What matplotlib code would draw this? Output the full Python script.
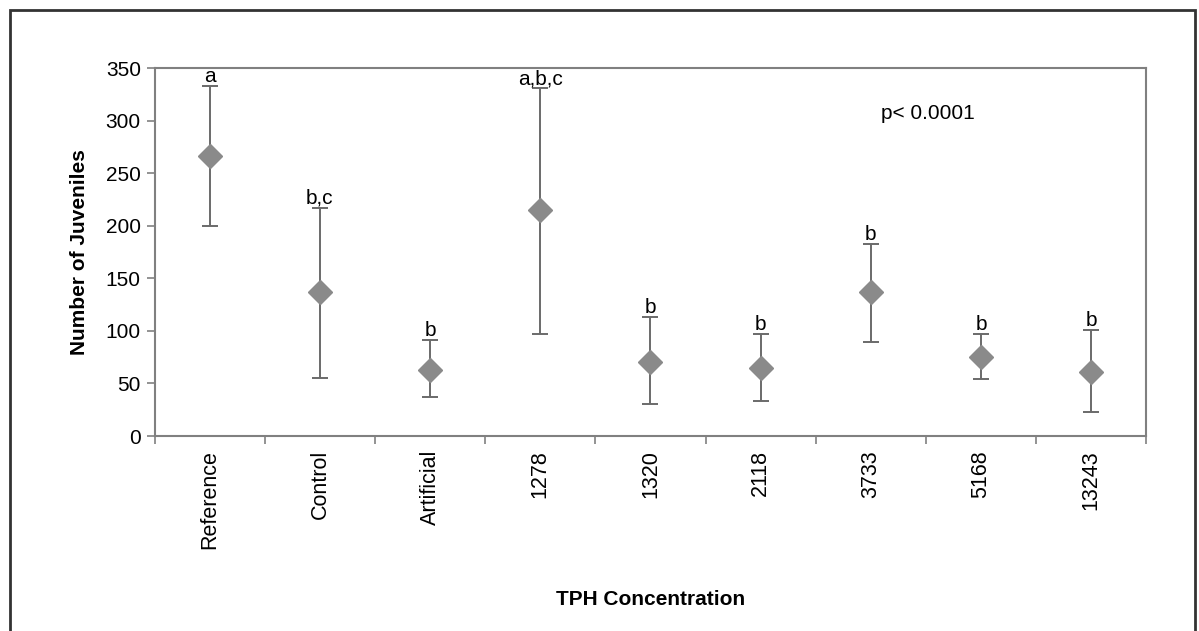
import numpy as np
import matplotlib
matplotlib.use("Agg")
import matplotlib.pyplot as plt
from matplotlib.patches import Rectangle

plt.rcParams['font.family'] = ['Liberation Sans', 'DejaVu Sans']

# data
groups = ['Reference', 'Control', 'Artificial', '1278', '1320', '2118', '3733', '5168', '13243']
means = [266, 137, 63, 215, 70, 65, 137, 75, 61]
upper = [333, 217, 91, 331, 113, 97, 183, 97, 101]
lower = [200, 55, 37, 97, 30, 33, 89, 54, 23]
letters = ['a', 'b,c', 'b', 'a,b,c', 'b', 'b', 'b', 'b', 'b']

fig = plt.figure(figsize=(11.99, 6.31), dpi=100)
ax = fig.add_axes([0.129, 0.309, 0.827, 0.583])

x = np.arange(len(groups))
m = np.array(means)
yerr = [m - np.array(lower), np.array(upper) - m]
ax.errorbar(x, m, yerr=yerr, fmt='D', color='#8a8a8a', ms=12, mec='#8a8a8a',
            ecolor='#6a6a6a', elinewidth=1.4, capsize=6, capthick=1.4)

for xi, up, lab in zip(x, upper, letters):
    ax.annotate(lab, (xi, up), xytext=(0, 0), textcoords='offset points',
                ha='center', va='bottom', fontsize=15)

ax.text(0.78, 0.878, 'p< 0.0001', transform=ax.transAxes, ha='center', va='center', fontsize=15)

ax.set_xlim(-0.5, len(groups) - 0.5)
ax.set_ylim(0, 350)
ax.set_yticks(np.arange(0, 351, 50))
ax.set_xticks(x)
ax.set_xticklabels(groups, rotation=90, fontsize=15.5)
ax.set_xticks(np.arange(-0.5, len(groups), 1), minor=True)
ax.tick_params(axis='x', which='major', length=0, pad=10)
ax.tick_params(axis='x', which='minor', length=6, width=1.2, color='#808080', direction='out')
ax.tick_params(axis='y', length=6, width=1.2, color='#808080', direction='out', labelsize=15, pad=4)
for s in ax.spines.values():
    s.set_color('#808080')
    s.set_linewidth(1.5)

ax.set_ylabel('Number of Juveniles', fontsize=15, fontweight='bold', labelpad=12)
ax.set_xlabel('TPH Concentration', fontsize=15, fontweight='bold', labelpad=30)

# outer frame of the chart area
fig.patches.append(Rectangle((10 / 1199, -0.1), 1185 / 1199, 1.1 - 10 / 631,
                             transform=fig.transFigure, fill=False,
                             edgecolor='#333333', linewidth=2))

fig.savefig('out.png', dpi=100)
